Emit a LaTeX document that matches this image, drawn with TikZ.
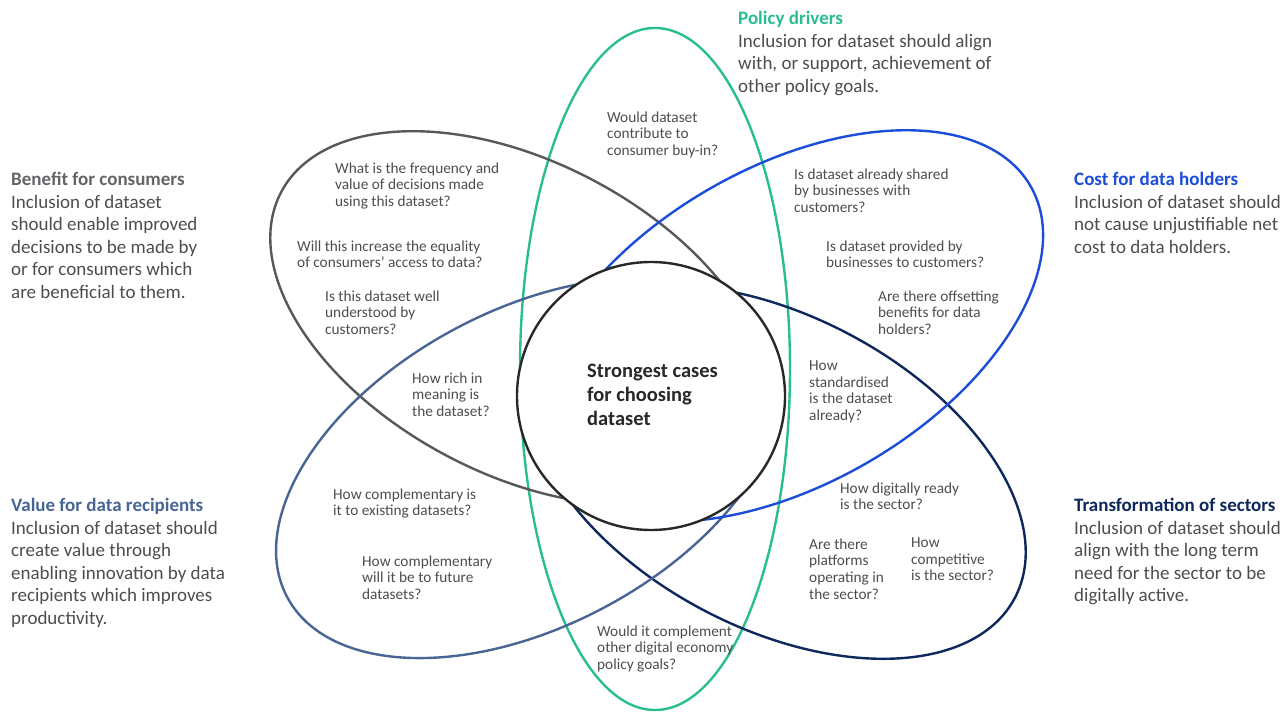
\documentclass[tikz,border=0pt]{standalone}
\usepackage{fontspec}
\setmainfont{Carlito}
\usepackage{tikz}
\definecolor{policygreen}{RGB}{43,189,146}
\definecolor{consumergray}{RGB}{88,88,92}
\definecolor{titlegray}{RGB}{100,100,104}
\definecolor{holderblue}{RGB}{27,77,216}
\definecolor{sectornavy}{RGB}{14,40,92}
\definecolor{recipientslate}{RGB}{72,101,148}
\definecolor{bodytext}{RGB}{77,77,77}
\definecolor{coreline}{RGB}{40,40,40}
\tikzstyle{Petal}=[line width=2.4pt]
\tikzstyle{Driver}=[anchor=north west, inner sep=0pt, align=left, text=bodytext, font=\fontsize{19}{22.6}\selectfont]
\tikzstyle{Question}=[anchor=north west, inner sep=0pt, align=left, text=bodytext, font=\fontsize{15.3}{16.6}\selectfont]

\begin{document}
\begin{tikzpicture}[x=1pt,y=-1pt]
    \useasboundingbox (0,0) rectangle (1286,712);

    \draw[Petal, policygreen] (655,369) ellipse [x radius=135, y radius=341];
    \draw[Petal, consumergray] (520,318) ellipse [x radius=270, y radius=156, rotate=-27.8];
    \draw[Petal, sectornavy] (776,472) ellipse [x radius=270, y radius=156, rotate=-27.8];
    % inner tips stay hidden behind the core
    \begin{scope}[even odd rule]
        \clip (-100,-100) rectangle (1400,800)
            (651,396) -- (801,136) -- (1100,136) -- (1100,474) -- (941,474) -- cycle;
        \draw[Petal, recipientslate] (530,468) ellipse [x radius=275, y radius=158, rotate=28];
    \end{scope}
    \begin{scope}[even odd rule]
        \clip (-100,-100) rectangle (1400,800)
            (651,396) -- (501,656) -- (200,656) -- (200,293) -- (369,293) -- cycle;
        \draw[Petal, holderblue] (788,326) ellipse [x radius=280, y radius=158, rotate=30];
    \end{scope}

    \path
    (651,396) node[circle, minimum size=268, line width=2.4pt, draw=coreline, fill=white] (core) {}
    (587,363.5) node[anchor=north west, inner sep=0pt, align=left, text=coreline, font=\fontsize{20.5}{24}\selectfont\bfseries] (coretext) {Strongest cases\\for choosing\\dataset};

    \path
    (11,172) node[Driver] (consumers) {{\bfseries\color{titlegray}Benefit for consumers}\\Inclusion of dataset\\should enable improved\\decisions to be made by\\or for consumers which\\are beneficial to them.}
    (11,498) node[Driver] (recipients) {{\bfseries\color{recipientslate}Value for data recipients}\\Inclusion of dataset should\\create value through\\enabling innovation by data\\recipients which improves\\productivity.}
    (738,11) node[Driver] (policy) {{\bfseries\color{policygreen}Policy drivers}\\Inclusion for dataset should align\\with, or support, achievement of\\other policy goals.}
    (1074,172) node[Driver] (holders) {{\bfseries\color{holderblue}Cost for data holders}\\Inclusion of dataset should\\not cause unjustifiable net\\cost to data holders.}
    (1074,498) node[Driver] (sectors) {{\bfseries\color{sectornavy}Transformation of sectors}\\Inclusion of dataset should\\align with the long term\\need for the sector to be\\digitally active.};

    \path
    (335,162.5) node[Question] (frequency) {What is the frequency and\\value of decisions made\\using this dataset?}
    (297,240.5) node[Question] (equality) {Will this increase the equality\\of consumers’ access to data?}
    (325,290.5) node[Question] (understood) {Is this dataset well\\understood by\\customers?}
    (412,372.5) node[Question] (meaning) {How rich in\\meaning is\\the dataset?}
    (607,111.5) node[Question] (buyin) {Would dataset\\contribute to\\consumer buy-in?}
    (794,168.5) node[Question] (shared) {Is dataset already shared\\by businesses with\\customers?}
    (826,240.5) node[Question] (provided) {Is dataset provided by\\businesses to customers?}
    (878,290.5) node[Question] (offsetting) {Are there offsetting\\benefits for data\\holders?}
    (809,360.5) node[Question] (standardised) {How\\standardised\\is the dataset\\already?}
    (840,482.5) node[Question] (ready) {How digitally ready\\is the sector?}
    (809,538.5) node[Question] (platforms) {Are there\\platforms\\operating in\\the sector?}
    (911,537.5) node[Question] (competitive) {How\\competitive\\is the sector?}
    (333,488.5) node[Question] (existing) {How complementary is\\it to existing datasets?}
    (362,555.5) node[Question] (future) {How complementary\\will it be to future\\datasets?}
    (597,625.5) node[Question] (economy) {Would it complement\\other digital economy\\policy goals?};
\end{tikzpicture}
\end{document}
